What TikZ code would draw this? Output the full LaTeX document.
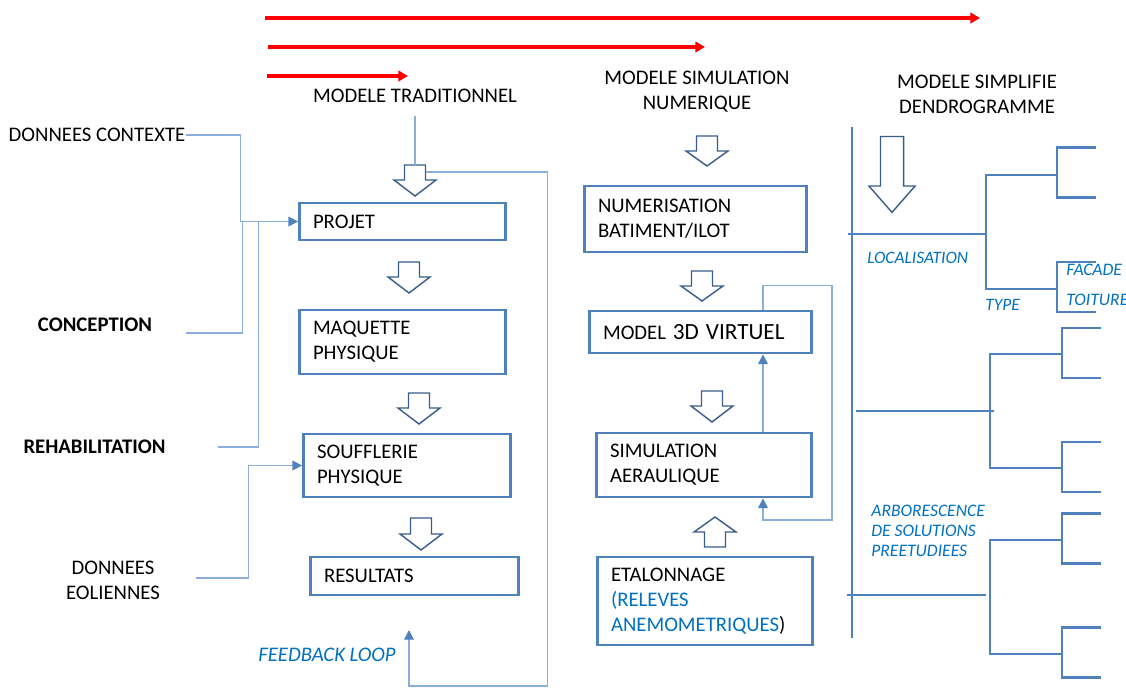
\documentclass[tikz,border=0pt]{standalone}
\usepackage{fontspec}
\setmainfont{Carlito}
\usetikzlibrary{arrows.meta}

\definecolor{boxblue}{RGB}{79,129,189}
\definecolor{lineblue}{RGB}{141,174,218}
\definecolor{arrowblue}{RGB}{56,93,138}
\definecolor{textblue}{RGB}{0,112,192}

\begin{document}
\begin{tikzpicture}[
    x=0.02cm, y=-0.02cm,
    font=\fontsize{11.8}{14.2}\selectfont,
    stage/.style={rectangle, draw=boxblue, line width=1.6pt, inner xsep=0.27cm, inner ysep=0pt, align=left},
    headtxt/.style={inner sep=0pt, align=center},
    bluenote/.style={inner sep=0pt, anchor=west, text=textblue, font=\fontsize{10}{11.3}\selectfont\itshape, align=left},
    feed/.style={draw=lineblue, line width=0.7pt},
    feedarrow/.style={-{Triangle[length=5.5pt,width=5.5pt,color=boxblue]}},
    redarrow/.style={red, line width=1.8pt, -{Triangle[length=5.5pt,width=6pt]}},
    dendro/.style={boxblue, line width=1.3pt},
    pics/blockdown/.style 2 args={code={
        \draw[arrowblue, line width=0.8pt, fill=white] (-10.5,-#1) -- (10.5,-#1) -- (10.5,0) -- (21,0) -- (0,#2) -- (-21,0) -- (-10.5,0) -- cycle;
        \coordinate (-top) at (0,-#1);
        \coordinate (-right) at (10.5,-8);
    }}
]
    \useasboundingbox (0,0) rectangle (1126,687);

    % Red timeline arrows
    \coordinate (r1s) at (265,18);  \coordinate (r1e) at (980,18);
    \coordinate (r2s) at (268,47);  \coordinate (r2e) at (705,47);
    \coordinate (r3s) at (267,76);  \coordinate (r3e) at (408,76);
    \draw[redarrow] (r1s) -- (r1e);
    \draw[redarrow] (r2s) -- (r2e);
    \draw[redarrow] (r3s) -- (r3e);

    % Column titles
    \node[headtxt] (trad) at (415,96) {MODELE TRADITIONNEL};
    \node[headtxt] (numhead) at (697,92) {MODELE SIMULATION\\NUMERIQUE};
    \node[headtxt] (dendhead) at (977,94) {MODELE SIMPLIFIE\\DENDROGRAMME};

    % Inputs on the left
    \node[headtxt] (contexte) at (97,135) {DONNEES CONTEXTE};
    \node[headtxt, font=\fontsize{11.8}{14.2}\selectfont\bfseries] (conception) at (95,325) {CONCEPTION};
    \node[headtxt, font=\fontsize{11.8}{14.2}\selectfont\bfseries] (rehab) at (94.5,447) {REHABILITATION};
    \node[headtxt] (eoliennes) at (113,580) {DONNEES\\EOLIENNES};

    % Traditional model
    \node[stage, text width=3.58cm, minimum height=0.74cm] (projet) at (402.5,221.5) {PROJET};
    \node[stage, text width=3.58cm, minimum height=1.28cm] (maquette) at (402.5,342) {MAQUETTE\\PHYSIQUE};
    \node[stage, text width=3.6cm, minimum height=1.26cm] (soufflerie) at (407,465.5) {SOUFFLERIE\\PHYSIQUE};
    \node[stage, text width=3.62cm, minimum height=0.76cm] (resultats) at (414.5,576) {RESULTATS};

    \pic (a1) at (415,180) {blockdown={15}{16}};
    \pic (a2) at (409,277) {blockdown={15}{16}};
    \pic (a3) at (419,408) {blockdown={15}{16}};
    \pic (a4) at (421,534) {blockdown={16}{16}};

    \draw[feed] (a1-top) -- ++(0,-49);

    \coordinate (conc-end) at (186,333);
    \coordinate (rehab-end) at (218,447);
    \coordinate (eol-end) at (196,578);
    \coordinate (fb-end) at (409,630);

    \draw[feed, feedarrow] (contexte.east) -| ([xshift=-1.16cm]projet.west) -- (projet.west);
    \draw[feed] (conc-end) -| ([xshift=-1.12cm]projet.west);
    \draw[feed] (rehab-end) -| ([xshift=-0.8cm]projet.west);
    \draw[feed, feedarrow] (eol-end) -| ([xshift=-1.08cm]soufflerie.west) -- (soufflerie.west);
    \draw[feed, feedarrow] (a1-right) -- ++(122,0) -- ++(0,514) -| (fb-end);

    \node[bluenote, font=\fontsize{11.8}{14}\selectfont\itshape] (feedback) at (258,655) {FEEDBACK LOOP};

    % Numerical simulation model
    \node[stage, text width=3.9cm, minimum height=1.32cm] (numerisation) at (695.5,219) {NUMERISATION\\BATIMENT/ILOT};
    \node[stage, text width=3.9cm, minimum height=0.84cm] (model3d) at (700.5,332) {MODEL {\fontsize{13.2}{14}\selectfont 3D VIRTUEL}};
    \node[stage, text width=3.76cm, minimum height=1.28cm] (simulation) at (704,465) {SIMULATION\\AERAULIQUE};
    \node[stage, text width=3.76cm, minimum height=1.76cm] (etalonnage) at (705,601) {ETALONNAGE\\{\color{textblue}(RELEVES}\\{\color{textblue}ANEMOMETRIQUES})};

    \pic (n1) at (707,151) {blockdown={15}{15}};
    \pic (n2) at (702,286) {blockdown={15}{15}};
    \pic (n3) at (712,406) {blockdown={15}{16}};
    \pic[rotate=180] (n4) at (715,532) {blockdown={15}{15}};

    \draw[feed, feedarrow] ([xshift=1.18cm]simulation.north) -- ([xshift=1.18cm]simulation.north |- model3d.south);
    \draw[feed, feedarrow] ([xshift=1.18cm]simulation.north |- model3d.north) -- ++(0,-24) -| (832,520) -| ([xshift=1.18cm]simulation.south);

    % Dendrogram
    \draw[dendro] (852,127) -- (852,638);
    \pic[scale=1.1] (big) at (892,186) {blockdown={45}{24}};

    \draw[dendro] (848,234) -- (986,234);
    \draw[dendro] (1057,175) -- (986,175) -- (986,289) -- (1057,289);
    \draw[dendro] (856,411) -- (994,411);
    \draw[dendro] (1062,354) -- (990,354) -- (990,468) -- (1062,468);
    \draw[dendro] (847,595) -- (986,595);
    \draw[dendro] (1062,540) -- (990,540) -- (990,654) -- (1062,654);

    \foreach \y/\x/\e in {172.5/1057/1096, 287/1057/1096, 353/1062/1101, 467/1062/1101, 538.5/1062/1101, 652.5/1062/1101}
        \draw[dendro] (\e,\y-25) -- (\x,\y-25) -- (\x,\y+25) -- (\e,\y+25);

    \node[bluenote, font=\fontsize{9.9}{11}\selectfont\itshape] (localisation) at (867,258) {LOCALISATION};
    \node[bluenote, font=\fontsize{9.9}{11}\selectfont\itshape] (type) at (985,305) {TYPE};
    \node[bluenote] (facade) at (1066,270) {FACADE};
    \node[bluenote] (toiture) at (1066,300) {TOITURE};
    \node[bluenote] (arbo) at (871,531) {ARBORESCENCE\\DE SOLUTIONS\\PREETUDIEES};
\end{tikzpicture}
\end{document}
